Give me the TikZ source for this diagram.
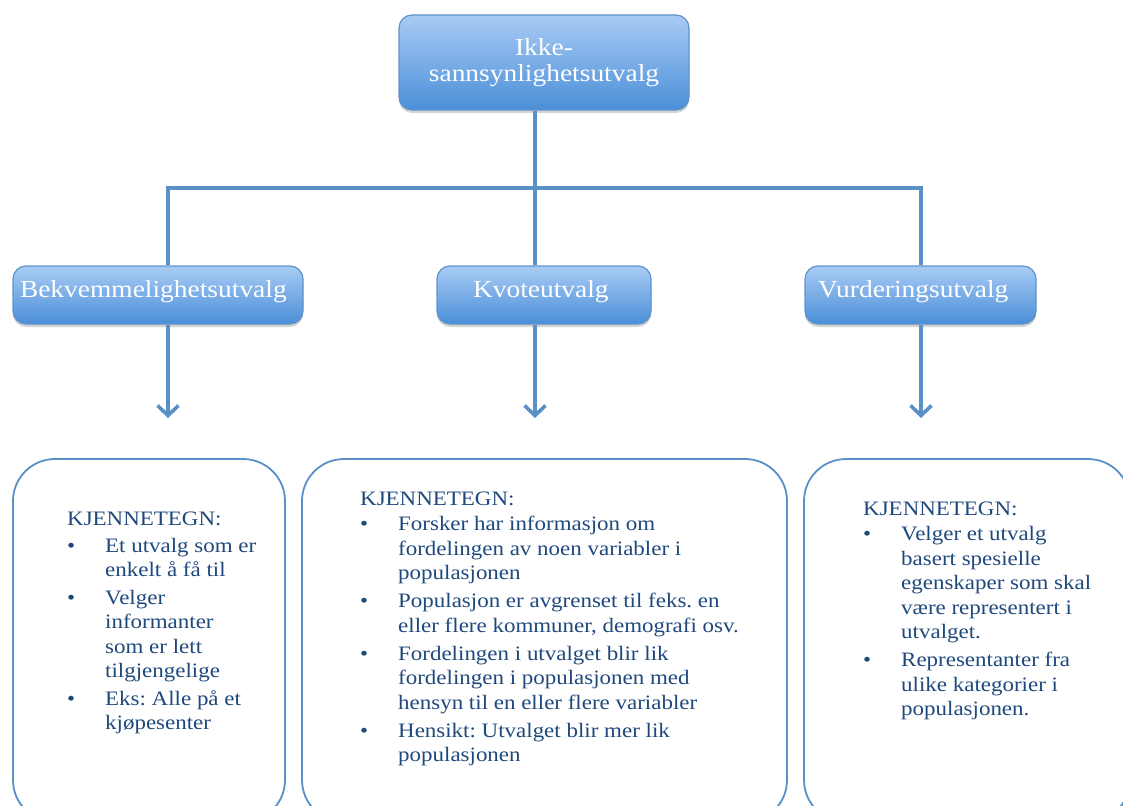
\documentclass[tikz,border=0pt]{standalone}
\usepackage{fontspec}
\setmainfont{Liberation Serif}[FakeStretch=1.12]
\usetikzlibrary{arrows.meta,shadows}
\frenchspacing

\definecolor{boxtop}{HTML}{A8CBF5}
\definecolor{boxbot}{HTML}{4B8FD8}
\definecolor{boxedge}{HTML}{5E93CA}
\definecolor{linkblue}{HTML}{5A90C8}
\definecolor{txtblue}{HTML}{1F497D}

\newcommand\headfont{\fontsize{24.5}{26}\selectfont}
\newcommand\cardfont{\fontsize{20.5}{24.5}\selectfont}
\newcommand\bitem{\makebox[38pt][l]{\textbullet}}
\newcommand\cont{\hspace*{38pt}}

\tikzset{
  headbox/.style={draw=boxedge, line width=1.2pt, rounded corners=13pt,
    top color=boxtop, bottom color=boxbot, text=white, font=\headfont,
    inner ysep=0pt, text height=14pt, text depth=9pt, align=left,
    drop shadow={opacity=0.35, shadow xshift=0pt, shadow yshift=-3pt}},
  card/.style={draw=linkblue, line width=1.8pt, rounded corners=42pt,
    fill=white, inner sep=0pt,
    drop shadow={opacity=0.12, shadow xshift=0pt, shadow yshift=-2pt}},
  cardtext/.style={anchor=north west, inner sep=0pt, align=left,
    text=txtblue, font=\cardfont},
  link/.style={draw=linkblue, line width=4pt},
  downarrow/.style={link, -{Straight Barb[length=10pt, width=21pt, line width=3.6pt]}},
}

\begin{document}
\begin{tikzpicture}[x=1pt, y=-1pt]
  \useasboundingbox (0,0) rectangle (1123,805);
  \clip (0,0) rectangle (1123,805);

  % root box
  \node[headbox, align=center, text height=, text depth=, inner sep=0pt,
        minimum width=290pt, minimum height=95pt] (root) at (544,62.5)
        {Ikke-\\sannsynlighetsutvalg};

  % second level
  \node[headbox, minimum width=290pt, minimum height=58pt, inner xsep=7pt,
        text width=276pt] (bek) at (158,295) {Bekvemmelighetsutvalg};
  \node[headbox, minimum width=214pt, minimum height=58pt, inner xsep=36pt,
        text width=142pt] (kvo) at (544,295) {Kvoteutvalg};
  \node[headbox, minimum width=231pt, minimum height=58pt, inner xsep=13pt,
        text width=205pt] (vur) at (920.5,295) {Vurderingsutvalg};

  % description cards
  \node[card, minimum width=272pt, minimum height=363pt] (c1) at (149,640.5) {};
  \node[card, minimum width=485pt, minimum height=363pt] (c2) at (544.5,640.5) {};
  \node[card, minimum width=326pt, minimum height=363pt] (c3) at (967,640.5) {};

  \node[cardtext] (t1) at (67,511.5) {KJENNETEGN:\\[2.5pt]
    \bitem Et utvalg som er\\
    \cont enkelt å få til\\[3pt]
    \bitem Velger\\
    \cont informanter\\
    \cont som er lett\\
    \cont tilgjengelige\\[3pt]
    \bitem Eks: Alle på et\\
    \cont kjøpesenter};

  \node[cardtext] (t2) at (360,491.5) {KJENNETEGN:\\[1pt]
    \bitem Forsker har informasjon om\\
    \cont fordelingen av noen variabler i\\
    \cont populasjonen\\[3.5pt]
    \bitem Populasjon er avgrenset til feks. en\\
    \cont eller flere kommuner, demografi osv.\\[3.5pt]
    \bitem Fordelingen i utvalget blir lik\\
    \cont fordelingen i populasjonen med\\
    \cont hensyn til en eller flere variabler\\[3.5pt]
    \bitem Hensikt: Utvalget blir mer lik\\
    \cont populasjonen};

  \node[cardtext] (t3) at (863,501.5) {KJENNETEGN:\\[1pt]
    \bitem Velger et utvalg\\
    \cont basert spesielle\\
    \cont egenskaper som skal\\
    \cont være representert i\\
    \cont utvalget.\\[3.5pt]
    \bitem Representanter fra\\
    \cont ulike kategorier i\\
    \cont populasjonen.};

  % connector columns and junction level
  \coordinate (xl) at (168,0);
  \coordinate (xm) at (535,0);
  \coordinate (xr) at (921,0);
  \coordinate (jn) at (535,188);
  \coordinate (tip) at (0,418);

  % tree connectors
  \draw[link] (root.south -| xm) -- (kvo.north -| xm);
  \draw[link] (bek.north -| xl) -- (xl |- jn) -- (xr |- jn) -- (vur.north -| xr);

  % arrows towards the cards
  \draw[downarrow] (bek.south -| xl) -- (xl |- tip);
  \draw[downarrow] (kvo.south -| xm) -- (xm |- tip);
  \draw[downarrow] (vur.south -| xr) -- (xr |- tip);
\end{tikzpicture}
\end{document}
